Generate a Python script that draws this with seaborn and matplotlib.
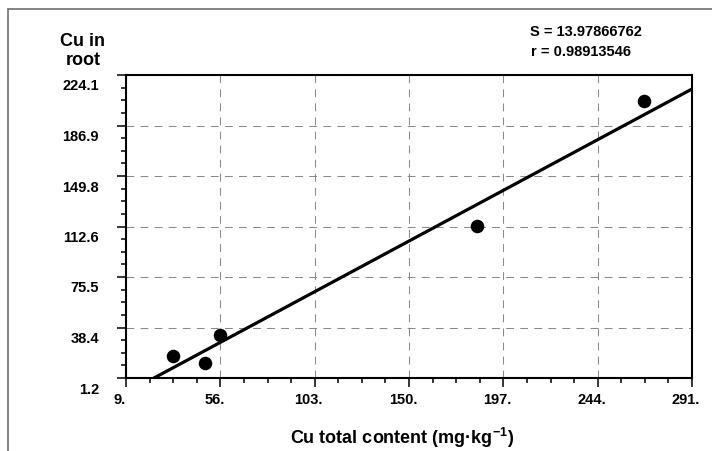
import numpy as np
import pandas as pd
import matplotlib
matplotlib.use("Agg")
import matplotlib.pyplot as plt
import seaborn as sns
from matplotlib.ticker import AutoMinorLocator, FixedLocator, FixedFormatter
from matplotlib.transforms import ScaledTranslation
from matplotlib.lines import Line2D

# Copper: total soil content vs. content in root
cu_total = [32.3, 48.4, 55.8, 184.0, 267.0]
cu_root = [17.6, 12.5, 32.6, 113.2, 205.0]

x_ticks = [9, 56, 103, 150, 197, 244, 291]
x_labels = ["9.", "56.", "103.", "150.", "197.", "244.", "291."]
y_ticks = [1.2, 38.35, 75.5, 112.65, 149.8, 186.95, 224.1]
y_labels = ["1.2", "38.4", "75.5", "112.6", "149.8", "186.9", "224.1"]

fit_stats = ["S = 13.97866762", "r = 0.98913546"]

df = pd.DataFrame({"total": cu_total, "root": cu_root})

sns.set_theme(style="white")
plt.rcParams["font.family"] = ["Liberation Sans", "DejaVu Sans"]
plt.rcParams["font.weight"] = "bold"
plt.rcParams["text.color"] = "black"
plt.rcParams["axes.labelcolor"] = "black"
plt.rcParams["xtick.color"] = "black"
plt.rcParams["ytick.color"] = "black"
plt.rcParams["mathtext.fontset"] = "custom"
plt.rcParams["mathtext.rm"] = "Liberation Sans:bold"
plt.rcParams["mathtext.bf"] = "Liberation Sans:bold"
plt.rcParams["mathtext.default"] = "rm"

DPI = 100
W, H = 712, 451
fig = plt.figure(figsize=(W / DPI, H / DPI), dpi=DPI)
fig.patch.set_facecolor("white")

ax_l, ax_r, ax_t, ax_b = 126, 692, 75, 378
ax = fig.add_axes([ax_l / W, 1 - ax_b / H, (ax_r - ax_l) / W, (ax_b - ax_t) / H])
ax.set_facecolor("white")

ax.set_xlim(x_ticks[0], x_ticks[-1])
ax.set_ylim(y_ticks[0], y_ticks[-1])

sns.regplot(data=df, x="total", y="root", ax=ax, ci=None, truncate=False,
            scatter_kws={"s": 95, "color": "black", "edgecolor": "black",
                         "linewidths": 0, "alpha": 1, "zorder": 4},
            line_kws={"color": "black", "linewidth": 2.3, "zorder": 3})

ax.set_xlim(x_ticks[0], x_ticks[-1])
ax.set_ylim(y_ticks[0], y_ticks[-1])
ax.set_xlabel("")
ax.set_ylabel("")

ax.xaxis.set_major_locator(FixedLocator(x_ticks))
ax.xaxis.set_major_formatter(FixedFormatter(x_labels))
ax.yaxis.set_major_locator(FixedLocator(y_ticks))
ax.yaxis.set_major_formatter(FixedFormatter(y_labels))
ax.xaxis.set_minor_locator(AutoMinorLocator(4))
ax.yaxis.set_minor_locator(AutoMinorLocator(4))

ax.tick_params(axis="both", which="major", direction="out", length=6.5, width=1.1,
               color="black", labelsize=10.5, labelcolor="black")
ax.tick_params(axis="both", which="minor", direction="out", length=3.6, width=1.1,
               color="black")
ax.tick_params(axis="y", which="major", pad=13)
ax.tick_params(axis="x", which="major", pad=4)
ax.tick_params(bottom=True, left=True, which="both")
for lab in ax.get_xticklabels():
    lab.set_fontweight("bold")
    lab.set_transform(lab.get_transform() + ScaledTranslation(-6 / DPI, 0, fig.dpi_scale_trans))
for lab in ax.get_yticklabels():
    lab.set_fontweight("bold")
    lab.set_transform(lab.get_transform() + ScaledTranslation(0, -10 / DPI, fig.dpi_scale_trans))

ax.grid(True, which="major", color="#8a8a8a", linewidth=0.75, linestyle=(0, (7.5, 6)))
ax.set_axisbelow(True)
for side in ["left", "bottom", "right", "top"]:
    ax.spines[side].set_visible(True)
    ax.spines[side].set_color("black")
    ax.spines[side].set_linewidth(1.5)

# Axis titles
fig.text(83 / W, 1 - 51 / H, "Cu in\nroot", ha="center", va="center",
         fontsize=13, fontweight="bold", color="black", linespacing=1.15)
fig.text(402 / W, 1 - 438 / H, "Cu total content (mg·kg$^{-1}$)", ha="center",
         va="center", fontsize=13, fontweight="bold", color="black")

# Fit statistics
fig.text(530 / W, 1 - 32 / H, fit_stats[0], ha="left", va="center",
         fontsize=10.5, fontweight="bold", color="black")
fig.text(531 / W, 1 - 52 / H, fit_stats[1], ha="left", va="center",
         fontsize=10.5, fontweight="bold", color="black")

# Outer frame
fx, fy = 7.5 / W, 1 - 9 / H
fig.add_artist(Line2D([fx, fx], [0, fy], transform=fig.transFigure,
                      color="#7a7a7a", linewidth=1.3))
fig.add_artist(Line2D([fx, 1], [fy, fy], transform=fig.transFigure,
                      color="#7a7a7a", linewidth=1.3))

fig.savefig("out.png", dpi=DPI)
